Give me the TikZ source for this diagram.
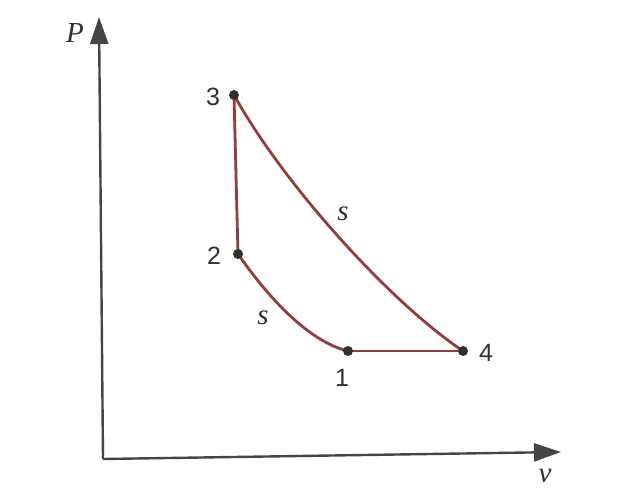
\documentclass[tikz,border=0pt]{standalone}
\usepackage{fontspec}
\newfontfamily\digitfont{Liberation Sans}
\newfontfamily\varfont{Liberation Serif}
\usetikzlibrary{arrows.meta}
\definecolor{brick}{HTML}{953C3C}
\definecolor{ink}{HTML}{454545}
\definecolor{dot}{HTML}{303030}

\begin{document}
\begin{tikzpicture}[x=1pt,y=-1pt,
    axis/.style={ink,line width=2.4pt,-{Triangle[length=27pt,width=18pt]}},
    cycle/.style={brick,line width=2.8pt},
    statept/.style={circle,fill=dot,inner sep=0pt,minimum size=10pt},
    numlbl/.style={font=\digitfont\fontsize{25}{25}\selectfont,color=dot},
    varlbl/.style={font=\varfont\fontsize{29}{29}\selectfont\itshape,color=dot}]
    \useasboundingbox (0,0) rectangle (622,494);
    % axes
    \coordinate (O) at (103,459);
    \coordinate (Ptop) at (99,17);
    \coordinate (vend) at (561,452);
    \draw[axis] (O) -- (Ptop);
    \draw[axis] (O) -- (vend);
    \node[varlbl] (Plbl) at (75,33) {P};
    \node[varlbl] (vlbl) at (545,476) {v};
    % states
    \coordinate (s1) at (348,351);
    \coordinate (s2) at (238,254);
    \coordinate (s3) at (234,95);
    \coordinate (s4) at (463,351);
    % cycle: two isentropes, constant v, constant P
    \draw[cycle] (s2) .. controls (270,300) and (310,342) .. (s1);
    \draw[cycle] (s2) -- (s3);
    \draw[cycle] (s3) .. controls (284,185) and (390,302) .. (s4);
    \draw[cycle] (s1) -- (s4);
    \foreach \k in {1,...,4}{
      \node[statept] (d\k) at (s\k) {};}
    \node[numlbl] (n1) at (342,378) {1};
    \node[numlbl] (n2) at (214,256) {2};
    \node[numlbl] (n3) at (213,97) {3};
    \node[numlbl] (n4) at (486,353) {4};
    \node[varlbl] (sup) at (343,214) {s};
    \node[varlbl] (slow) at (263,318) {s};
  \end{tikzpicture}
\end{document}
